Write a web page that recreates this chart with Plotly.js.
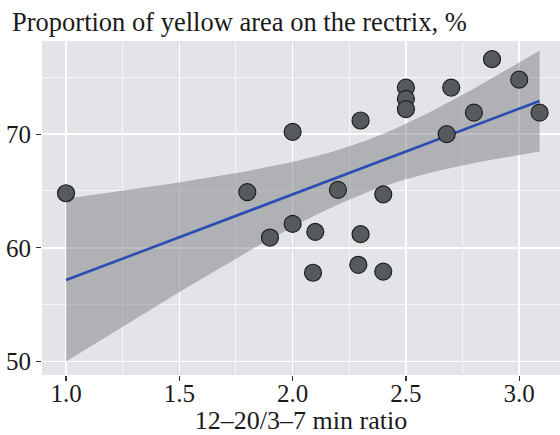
<!DOCTYPE html>
<html>
<head>
<meta charset="utf-8">
<script src="https://cdn.plot.ly/plotly-3.0.1.min.js"></script>
<style>html,body{margin:0;padding:0;overflow:hidden;background:#fff}</style>
</head>
<body>
<div id="chart" style="width:560px;height:435px"></div>
<script>
// Data
const ratio = [1.0, 1.8, 1.9, 2.0, 2.0, 2.09, 2.1, 2.2, 2.29, 2.3, 2.3, 2.4, 2.4, 2.5, 2.5, 2.5, 2.68, 2.7, 2.8, 2.88, 3.0, 3.09];
const yellowPct = [64.8, 64.9, 60.9, 70.2, 62.1, 57.8, 61.4, 65.1, 58.5, 71.2, 61.2, 64.7, 57.9, 74.1, 73.1, 72.2, 70.0, 74.1, 71.9, 76.6, 74.8, 71.9];
const xTickVals = [1.0, 1.5, 2.0, 2.5, 3.0];
const xTickText = ["1.0", "1.5", "2.0", "2.5", "3.0"];
const yTickVals = [50, 60, 70];
const yTickText = ["50", "60", "70"];

// Linear model with 95% confidence band (like geom_smooth(method = "lm"))
const n = ratio.length;
const mx = ratio.reduce((a, b) => a + b, 0) / n;
const my = yellowPct.reduce((a, b) => a + b, 0) / n;
let sxx = 0, sxy = 0;
for (let i = 0; i < n; i++) { sxx += (ratio[i] - mx) ** 2; sxy += (ratio[i] - mx) * (yellowPct[i] - my); }
const slope = sxy / sxx;
const icpt = my - slope * mx;
let sse = 0;
for (let i = 0; i < n; i++) { sse += (yellowPct[i] - (icpt + slope * ratio[i])) ** 2; }
const s = Math.sqrt(sse / (n - 2));
const tCrit = 2.086; // t(0.975, df = 20)
const xMin = Math.min(...ratio), xMax = Math.max(...ratio);
const fx = [], fy = [], lo = [], hi = [];
const steps = 80;
for (let k = 0; k <= steps; k++) {
  const x = xMin + (xMax - xMin) * k / steps;
  const y = icpt + slope * x;
  const se = s * Math.sqrt(1 / n + (x - mx) ** 2 / sxx);
  fx.push(x); fy.push(y); lo.push(y - tCrit * se); hi.push(y + tCrit * se);
}

const FONT = "Liberation Serif, Times New Roman, serif";
const TXT = '#1a1a1a';
const traces = [
  {x: fx, y: lo, mode: 'lines', line: {width: 0, color: 'rgba(0,0,0,0)'}, hoverinfo: 'skip', showlegend: false},
  {x: fx, y: hi, mode: 'lines', line: {width: 0, color: 'rgba(0,0,0,0)'}, fill: 'tonexty', fillcolor: 'rgba(120,122,125,0.48)', hoverinfo: 'skip', showlegend: false},
  {x: fx, y: fy, mode: 'lines', line: {color: '#2C4DB3', width: 2.6}, showlegend: false},
  {x: ratio, y: yellowPct, mode: 'markers', marker: {size: 17, color: '#575A5D', line: {color: '#1E1E1E', width: 1.2}}, showlegend: false}
];

const layout = {
  width: 560, height: 435,
  margin: {l: 42, r: 0, t: 41, b: 60},
  paper_bgcolor: '#ffffff',
  plot_bgcolor: '#E2E4E7',
  font: {family: FONT, size: 25, color: TXT},
  title: {text: 'Proportion of yellow area on the rectrix, %', x: 12 / 560, xref: 'container', xanchor: 'left', y: 1 - 31 / 435, yref: 'container', yanchor: 'bottom', font: {family: FONT, size: 26.5, color: TXT}},
  xaxis: {
    range: [0.894, 3.18], tickvals: xTickVals, ticktext: xTickText,
    ticks: 'outside', ticklen: 5, tickwidth: 1.3, tickcolor: '#333',
    ticklabelstandoff: -9,
    showgrid: true, gridcolor: '#ffffff', gridwidth: 1.6,
    minor: {dtick: 0.25, tick0: 1.0, showgrid: true, gridcolor: '#F4F5F6', gridwidth: 1, ticks: ''},
    zeroline: false, showline: false,
    title: {text: '12–20/3–7 min ratio', standoff: 3, font: {family: FONT, size: 26, color: TXT}},
    tickfont: {family: FONT, size: 25, color: TXT}
  },
  yaxis: {
    range: [48.8, 78.2], tickvals: yTickVals, ticktext: yTickText,
    ticks: 'outside', ticklen: 5, tickwidth: 1.3, tickcolor: '#333',
    showgrid: true, gridcolor: '#ffffff', gridwidth: 1.6,
    minor: {dtick: 5, tick0: 50, showgrid: true, gridcolor: '#F4F5F6', gridwidth: 1, ticks: ''},
    zeroline: false, showline: false,
    tickfont: {family: FONT, size: 25, color: TXT}
  }
};

Plotly.newPlot('chart', traces, layout, {displayModeBar: false, staticPlot: true});
</script>
</body>
</html>
